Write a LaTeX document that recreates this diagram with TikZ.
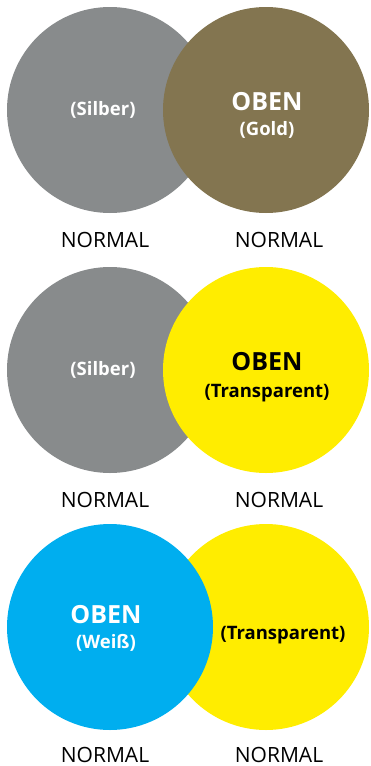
\documentclass[tikz,border=0pt]{standalone}
\usepackage{fontspec}
\setmainfont{Open Sans}
\definecolor{silber}{HTML}{888B8C}
\definecolor{gold}{HTML}{837550}
\definecolor{gelb}{HTML}{FFED00}
\definecolor{blau}{HTML}{00AEEF}
\begin{document}
\begin{tikzpicture}[x=1pt,y=-1pt,
  disc/.style={circle,inner sep=0pt,minimum size=206pt,draw=none},
  big/.style={anchor=base,inner sep=0pt,font=\fontsize{25}{25}\selectfont\bfseries},
  small/.style={anchor=base,inner sep=0pt,font=\fontsize{18.5}{18.5}\selectfont\bfseries},
  lab/.style={anchor=base,inner sep=0pt,font=\fontsize{21}{21}\selectfont}]
\useasboundingbox (0,0) rectangle (370,766);
% row 1
\node[disc,fill=silber] (s1) at (110,110) {};
\node[disc,fill=gold] (g1) at (266,110) {};
\node[small,text=white] (s1t) at (103,115) {(Silber)};
\node[big,text=white] (g1a) at (267,110) {OBEN};
\node[small,text=white] (g1b) at (267,135) {(Gold)};
\node[lab] (n1a) at (105,247) {NORMAL};
\node[lab] (n1b) at (279,247) {NORMAL};
% row 2
\node[disc,fill=silber] (s2) at (110,370) {};
\node[disc,fill=gelb] (y2) at (266,370) {};
\node[small,text=white] (s2t) at (103,375) {(Silber)};
\node[big] (y2a) at (267,370) {OBEN};
\node[small] (y2b) at (267,397) {(Transparent)};
\node[lab] (n2a) at (105,507) {NORMAL};
\node[lab] (n2b) at (279,507) {NORMAL};
% row 3
\node[disc,fill=gelb] (y3) at (266,627) {};
\node[disc,fill=blau] (b3) at (110,627) {};
\node[big,text=white] (b3a) at (106,623) {OBEN};
\node[small,text=white] (b3b) at (106,648) {(Weiß)};
\node[small] (y3t) at (283,639) {(Transparent)};
\node[lab] (n3a) at (105,762) {NORMAL};
\node[lab] (n3b) at (279,762) {NORMAL};
\end{tikzpicture}
\end{document}
